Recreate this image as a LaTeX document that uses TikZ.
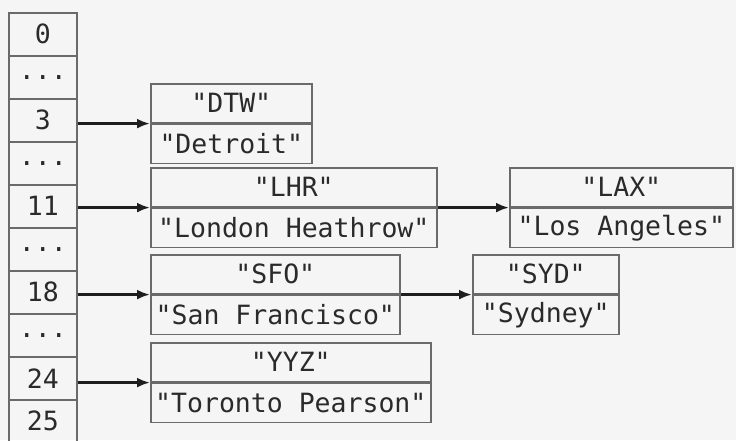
\documentclass[tikz,border=0pt]{standalone}
\usepackage{fontspec}
\newfontfamily\monofnt{DejaVu Sans Mono}
\usetikzlibrary{arrows.meta}
\definecolor{bg}{HTML}{F5F5F5}
\definecolor{edge}{HTML}{6A6A6A}
\definecolor{txt}{HTML}{2A2A2A}
\definecolor{arrowc}{HTML}{1E1E1E}
\tikzset{
  cell/.style={draw=edge, line width=1.6pt, inner sep=0pt, text=txt,
    font=\monofnt\fontsize{26.5}{26.5}\selectfont},
  idx/.style={cell, minimum width=68pt, minimum height=43pt, anchor=north west},
  rec/.style={cell, minimum height=39pt},
  arr/.style={draw=arrowc, line width=2.6pt, -{Latex[length=13pt,width=10pt]}}
}
\begin{document}
\begin{tikzpicture}[x=1pt,y=-1pt]
\fill[bg] (0,0) rectangle (736,440);
\useasboundingbox (0,0) rectangle (736,440);
% index column
\node[idx] (i0) at (8,12) {0};
\node[idx] (d1) at (8,55) {...};
\node[idx] (i3) at (8,98) {3};
\node[idx] (d2) at (8,141) {...};
\node[idx] (i11) at (8,184) {11};
\node[idx] (d3) at (8,227) {...};
\node[idx] (i18) at (8,270) {18};
\node[idx] (d4) at (8,313) {...};
\node[idx] (i24) at (8,356) {24};
\node[idx] (i25) at (8,399) {25};
% records
\node[rec, minimum width=161pt, anchor=north west] (dtwk) at (150,83) {"DTW"};
\node[rec, minimum width=161pt, anchor=north] (dtwv) at (dtwk.south) {"Detroit"};
\node[rec, minimum width=286pt, anchor=north west] (lhrk) at (150,167) {"LHR"};
\node[rec, minimum width=286pt, anchor=north] (lhrv) at (lhrk.south) {"London Heathrow"};
\node[rec, minimum width=223pt, anchor=north west] (laxk) at (509,167) {"LAX"};
\node[rec, minimum width=223pt, anchor=north] (laxv) at (laxk.south) {"Los Angeles"};
\node[rec, minimum width=249pt, anchor=north west] (sfok) at (150,254) {"SFO"};
\node[rec, minimum width=249pt, anchor=north] (sfov) at (sfok.south) {"San Francisco"};
\node[rec, minimum width=146pt, anchor=north west] (sydk) at (472,254) {"SYD"};
\node[rec, minimum width=146pt, anchor=north] (sydv) at (sydk.south) {"Sydney"};
\node[rec, minimum width=280pt, anchor=north west] (yyzk) at (150,342) {"YYZ"};
\node[rec, minimum width=280pt, anchor=north] (yyzv) at (yyzk.south) {"Toronto Pearson"};
% arrows
\draw[arr] (i3.east |- dtwk.south) -- (dtwk.south west);
\draw[arr] (i11.east |- lhrk.south) -- (lhrk.south west);
\draw[arr] (i18.east |- sfok.south) -- (sfok.south west);
\draw[arr] (i24.east |- yyzk.south) -- (yyzk.south west);
\draw[arr] (lhrk.south east) -- (laxk.south west);
\draw[arr] (sfok.south east) -- (sydk.south west);
\end{tikzpicture}
\end{document}
